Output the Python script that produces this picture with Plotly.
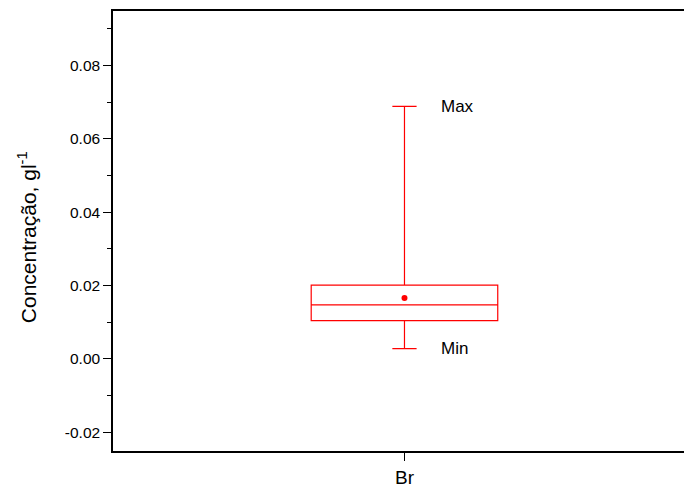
import plotly.graph_objects as go

# Summary statistics of the bromide concentration (g/l)
categories = ["Br"]
q1 = [0.0104]
median = [0.0147]
q3 = [0.0201]
lower_fence = [0.0028]
upper_fence = [0.0688]
mean = [0.0166]

y_tickvals = [-0.02, 0.00, 0.02, 0.04, 0.06, 0.08]
y_ticktext = ["-0.02", "0.00", "0.02", "0.04", "0.06", "0.08"]

FONT = "Arial, 'Liberation Sans', sans-serif"
RED = "#ff0000"

fig = go.Figure()

fig.add_trace(go.Box(
    x=categories,
    q1=q1, median=median, q3=q3,
    lowerfence=lower_fence, upperfence=upper_fence,
    boxpoints=False,
    width=0.64,
    whiskerwidth=0.13,
    fillcolor="rgba(0,0,0,0)",
    line=dict(color=RED, width=1.2),
    showlegend=False,
))

# mean marker
fig.add_trace(go.Scatter(
    x=categories, y=mean, mode="markers",
    marker=dict(color=RED, size=6),
    showlegend=False,
))

# Max / Min labels next to the whisker caps
for label, val in (("Max", upper_fence[0]), ("Min", lower_fence[0])):
    fig.add_annotation(
        x=categories[0], y=val, text=label, showarrow=False,
        xanchor="left", yanchor="middle", xshift=35,
        font=dict(family=FONT, size=17, color="black"),
    )

# y-axis title, placed as a rotated annotation
fig.add_annotation(
    text="Concentração, gl<sup>-1</sup>",
    xref="paper", yref="paper", x=0, y=0.486,
    xanchor="center", yanchor="middle", xshift=-86,
    textangle=-90, showarrow=False,
    font=dict(family=FONT, size=21, color="black"),
)

fig.update_layout(
    width=684, height=492,
    margin=dict(l=113, r=0, t=11, b=41),
    paper_bgcolor="white", plot_bgcolor="white",
    font=dict(family=FONT, color="black"),
    showlegend=False,
)

fig.update_xaxes(
    type="category",
    range=[-1, 0.959],
    showline=True, linecolor="black", linewidth=1.5, mirror=True,
    ticks="outside", ticklen=8, tickwidth=1.2, tickcolor="black",
    tickfont=dict(family=FONT, size=19),
    showgrid=False, zeroline=False,
)

fig.update_yaxes(
    range=[-0.0251, 0.0948],
    tickvals=y_tickvals, ticktext=y_ticktext,
    showline=True, linecolor="black", linewidth=1.5, mirror=False,
    ticks="outside", ticklen=8, tickwidth=1.2, tickcolor="black",
    tickfont=dict(family=FONT, size=15.5),
    minor=dict(dtick=0.01, tick0=0, ticks="outside", ticklen=4,
               tickwidth=1.2, tickcolor="black", showgrid=False),
    showgrid=False, zeroline=False,
)

fig.write_html("out.html")
